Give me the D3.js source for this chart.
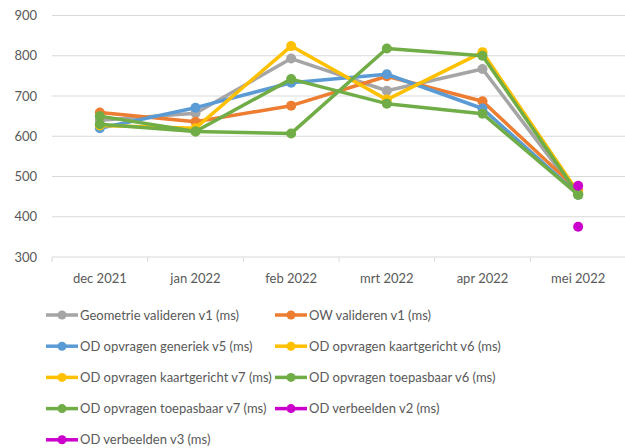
<!DOCTYPE html>
<html>
<head>
<meta charset="utf-8">
<script src="https://cdn.jsdelivr.net/npm/d3@7"></script>
<style>
  body { margin: 0; background: #fff; }
  text { font-family: Lato, "Open Sans", sans-serif; fill: #595959; }
</style>
</head>
<body>
<svg id="chart" width="625" height="448"></svg>
<script>
// months on the x axis
var months = ["dec 2021", "jan 2022", "feb 2022", "mrt 2022", "apr 2022", "mei 2022"];
var yTicks = [300, 400, 500, 600, 700, 800, 900];

// series values (ms), null = no measurement
var geometrieV1   = [640, 657, 793, 713, 767, 455];
var owV1          = [659, 636, 676, 749, 687, 465];
var odGeneriekV5  = [620, 671, 733, 754, 669, 455];
var odKaartV6     = [627, 620, 824, 691, 809, 460];
var odKaartV7     = [null, null, null, null, null, 458];
var odToepasV6    = [630, 612, 607, 818, 800, 455];
var odToepasV7    = [650, 612, 742, 681, 656, 455];
var odVerbeeldV2  = [null, null, null, null, null, 477];
var odVerbeeldV3  = [null, null, null, null, null, 375];

var series = [
  {name: "Geometrie valideren v1 (ms)",          values: geometrieV1,  color: "#a5a5a5"},
  {name: "OW valideren v1 (ms)",                 values: owV1,         color: "#ed7d31"},
  {name: "OD opvragen generiek v5 (ms)",         values: odGeneriekV5, color: "#5b9bd5"},
  {name: "OD opvragen kaartgericht v6 (ms)",     values: odKaartV6,    color: "#ffc000"},
  {name: "OD opvragen kaartgericht v7 (ms)",     values: odKaartV7,    color: "#ffc000"},
  {name: "OD opvragen toepasbaar v6 (ms)",       values: odToepasV6,   color: "#70ad47"},
  {name: "OD opvragen toepasbaar v7 (ms)",       values: odToepasV7,   color: "#70ad47"},
  {name: "OD verbeelden v2 (ms)",                values: odVerbeeldV2, color: "#cc00cc"},
  {name: "OD verbeelden v3 (ms)",                values: odVerbeeldV3, color: "#cc00cc"}
];

var svg = d3.select("#chart");
var plot = {left: 52, right: 626, top: 15.5, bottom: 257};

var x = d3.scaleBand().domain(months).range([plot.left, plot.right]);
var y = d3.scaleLinear().domain([300, 900]).range([plot.bottom, plot.top]);

// gridlines
svg.append("g").selectAll("line")
  .data(yTicks.slice(1))
  .enter().append("line")
  .attr("x1", plot.left).attr("x2", plot.right)
  .attr("y1", function(d) { return y(d); })
  .attr("y2", function(d) { return y(d); })
  .attr("stroke", "#d9d9d9").attr("stroke-width", 1);

// y labels
svg.append("g").selectAll("text")
  .data(yTicks)
  .enter().append("text")
  .attr("x", 37)
  .attr("y", function(d) { return y(d); })
  .attr("dy", "0.35em")
  .attr("text-anchor", "end")
  .style("font-size", "13px")
  .text(function(d) { return d; });

// x axis line + tick marks between categories
svg.append("line")
  .attr("x1", plot.left).attr("x2", plot.right)
  .attr("y1", plot.bottom).attr("y2", plot.bottom)
  .attr("stroke", "#d9d9d9");

svg.append("g").selectAll("line")
  .data(months)
  .enter().append("line")
  .attr("x1", function(d) { return x(d); })
  .attr("x2", function(d) { return x(d); })
  .attr("y1", plot.bottom).attr("y2", plot.bottom + 5)
  .attr("stroke", "#d9d9d9");

svg.append("g").selectAll("text")
  .data(months)
  .enter().append("text")
  .attr("x", function(d) { return x(d) + x.bandwidth() / 2; })
  .attr("y", 278)
  .attr("dy", "0.35em")
  .attr("text-anchor", "middle")
  .style("font-size", "13px")
  .text(function(d) { return d; });

var line = d3.line()
  .defined(function(d) { return d != null; })
  .x(function(d, i) { return x(months[i]) + x.bandwidth() / 2; })
  .y(function(d) { return y(d); });

series.forEach(function(s) {
  var g = svg.append("g");
  g.append("path")
    .attr("d", line(s.values))
    .attr("fill", "none")
    .attr("stroke", s.color)
    .attr("stroke-width", 3.5)
    .attr("stroke-linejoin", "round");
  g.selectAll("circle")
    .data(s.values.map(function(v, i) { return {v: v, i: i}; }).filter(function(d) { return d.v != null; }))
    .enter().append("circle")
    .attr("cx", function(d) { return x(months[d.i]) + x.bandwidth() / 2; })
    .attr("cy", function(d) { return y(d.v); })
    .attr("r", 5)
    .attr("fill", s.color);
});

// legend, two columns
var legend = svg.append("g").selectAll("g")
  .data(series)
  .enter().append("g")
  .attr("transform", function(d, i) {
    var col = i % 2, row = Math.floor(i / 2);
    return "translate(" + (col ? 275 : 46) + "," + (315 + row * 31.2) + ")";
  });

legend.append("line")
  .attr("x1", 0).attr("x2", 32)
  .attr("stroke", function(d) { return d.color; })
  .attr("stroke-width", 3.5);
legend.append("circle")
  .attr("cx", 16).attr("r", 4.5)
  .attr("fill", function(d) { return d.color; });
legend.append("text")
  .attr("x", 34)
  .attr("dy", "0.35em")
  .style("font-size", "13px")
  .text(function(d) { return d.name; });
</script>
</body>
</html>
